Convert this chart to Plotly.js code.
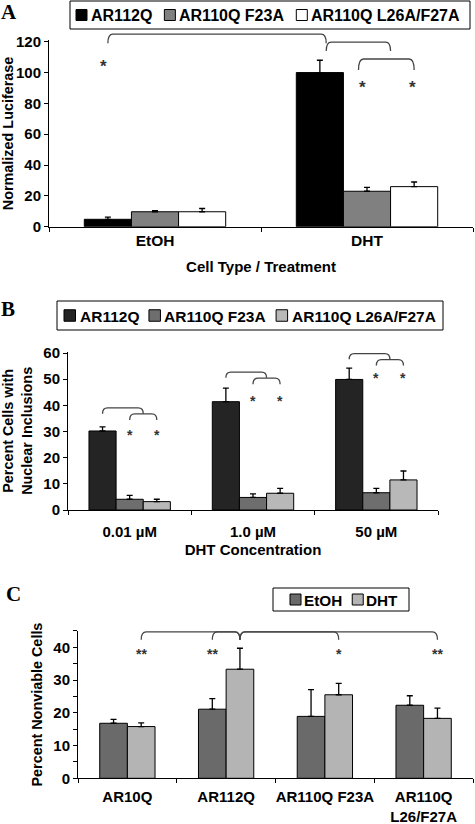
<!DOCTYPE html>
<html><head><meta charset="utf-8">
<script src="https://cdn.plot.ly/plotly-3.0.1.min.js"></script>
<style>html,body{margin:0;padding:0;background:#fff;}#chart{width:475px;height:824px;}</style>
</head><body><div id="chart"></div>
<script>
// ---------------- Data ----------------
// Panel A
const catsA = ['EtOH', 'DHT'];
const seriesNamesA = ['AR112Q', 'AR110Q F23A', 'AR110Q L26A/F27A'];
const lucAR112Q = [4.8, 100];
const lucAR112QErr = [1.4, 8];
const lucF23A = [9.7, 23];
const lucF23AErr = [0.7, 2.5];
const lucL26A = [9.7, 26];
const lucL26AErr = [2.1, 3];
// Panel B
const catsB = ['0.01 µM', '1.0 µM', '50 µM'];
const seriesNamesB = ['AR112Q', 'AR110Q F23A', 'AR110Q L26A/F27A'];
const inclAR112Q = [30.2, 41.4, 49.9];
const inclAR112QErr = [1.6, 5.2, 4.3];
const inclF23A = [4.1, 4.8, 6.6];
const inclF23AErr = [1.5, 1.4, 1.7];
const inclL26A = [3.2, 6.4, 11.5];
const inclL26AErr = [0.9, 1.9, 3.4];
// Panel C
const catsC = ['AR10Q', 'AR112Q', 'AR110Q F23A', 'AR110Q<br>L26/F27A'];
const seriesNamesC = ['EtOH', 'DHT'];
const nonviableEtOH = [16.8, 21.1, 18.9, 22.3];
const nonviableEtOHErr = [1.2, 3.2, 8.2, 2.9];
const nonviableDHT = [15.8, 33.3, 25.5, 18.3];
const nonviableDHTErr = [1.1, 6.4, 3.5, 3.1];
// Tick labels
const tickValsC = [0, 5, 10, 15, 20, 25, 30, 35, 40, 45];
const tickTextC = ['0', '', '10', '', '20', '', '30', '', '40', ''];

// ---------------- Layout helpers ----------------
const W = 475, H = 824;
const FONT = '"Liberation Sans", Arial, sans-serif';
const SERIF = '"Liberation Serif", "Times New Roman", serif';
const P = {
  A: {xPx: [49, 473], yPx: [40.2, 226.7], yRange: [0, 121], n: 2, groupW: 0.667, ns: 3, ax: ''},
  B: {xPx: [68, 438], yPx: [351.7, 510], yRange: [0, 60.5], n: 3, groupW: 0.66, ns: 3, ax: '2'},
  C: {xPx: [78, 473], yPx: [630.9, 778.3], yRange: [0, 45], n: 4, groupW: 0.56, ns: 2, ax: '3'}
};
function bc(p, cat, s) { const w = p.groupW / p.ns; return cat - p.groupW / 2 + w * (s + 0.5); }
function X(p, x) { return (p.xPx[0] + (x + 0.5) / p.n * (p.xPx[1] - p.xPx[0])) / W; }
function Y(p, y) { return 1 - (p.yPx[1] - (y - p.yRange[0]) / (p.yRange[1] - p.yRange[0]) * (p.yPx[1] - p.yPx[0])) / H; }

function bar(p, cats, s, y, err, name, color) {
  const w = p.groupW / p.ns;
  return {
    type: 'bar', x: cats, y: y, name: name,
    xaxis: 'x' + p.ax, yaxis: 'y' + p.ax,
    width: w, offset: -p.groupW / 2 + s * w,
    marker: {color: color, line: {color: '#000', width: 1}},
    error_y: {type: 'data', symmetric: false, array: err, arrayminus: err.map(() => 0),
              color: '#000', thickness: 1.3, width: 3},
    hoverinfo: 'skip'
  };
}

const data = [
  bar(P.A, catsA, 0, lucAR112Q, lucAR112QErr, seriesNamesA[0], '#000000'),
  bar(P.A, catsA, 1, lucF23A, lucF23AErr, seriesNamesA[1], '#808080'),
  bar(P.A, catsA, 2, lucL26A, lucL26AErr, seriesNamesA[2], '#ffffff'),
  bar(P.B, catsB, 0, inclAR112Q, inclAR112QErr, seriesNamesB[0], '#242424'),
  bar(P.B, catsB, 1, inclF23A, inclF23AErr, seriesNamesB[1], '#6e6e6e'),
  bar(P.B, catsB, 2, inclL26A, inclL26AErr, seriesNamesB[2], '#b8b8b8'),
  bar(P.C, catsC, 0, nonviableEtOH, nonviableEtOHErr, seriesNamesC[0], '#6a6a6a'),
  bar(P.C, catsC, 1, nonviableDHT, nonviableDHTErr, seriesNamesC[1], '#b4b4b4')
];

function xax(p, title, standoff, labelStandoff, tickSize) {
  const o = {
    domain: [p.xPx[0] / W, p.xPx[1] / W], range: [-0.5, p.n - 0.5], anchor: 'y' + p.ax,
    showline: true, linecolor: '#000', linewidth: 1, ticks: 'outside', tickson: 'boundaries',
    ticklen: 4, tickcolor: '#000', showgrid: false, zeroline: false, fixedrange: true,
    tickangle: 0, ticklabelstandoff: labelStandoff,
    tickfont: {family: FONT, size: tickSize, color: '#000', weight: 700}
  };
  if (title) o.title = {text: title, font: {family: FONT, size: 15, color: '#000', weight: 700}, standoff: standoff};
  return o;
}
function yax(p, title, standoff, extra) {
  const o = Object.assign({
    domain: [1 - p.yPx[1] / H, 1 - p.yPx[0] / H], range: p.yRange, anchor: 'x' + p.ax,
    showline: true, linecolor: '#000', linewidth: 1, ticks: 'outside', ticklen: 4, tickcolor: '#000',
    showgrid: false, zeroline: false, fixedrange: true,
    tickfont: {family: FONT, size: 15, color: '#000', weight: 700},
    title: {text: title, font: {family: FONT, size: 14.4, color: '#000', weight: 700}, standoff: standoff}
  }, extra || {});
  return o;
}

// --------------- Annotations / shapes ---------------
const shapes = [], annotations = [];
const ctx = document.createElement('canvas').getContext('2d');
function tw(t, size) { ctx.font = 'bold ' + size + 'px "Liberation Sans"'; return ctx.measureText(t).width; }
function rectPx(x0, y0, x1, y1, fill, lw) {
  shapes.push({type: 'rect', xref: 'paper', yref: 'paper', x0: x0 / W, x1: x1 / W, y0: 1 - y1 / H, y1: 1 - y0 / H,
    fillcolor: fill, line: {color: '#000', width: lw}});
}
function textPx(x, y, t, size, opts) {
  annotations.push(Object.assign({xref: 'paper', yref: 'paper', x: x / W, y: 1 - y / H, text: t, showarrow: false,
    xanchor: 'left', yanchor: 'middle', borderpad: 0,
    font: {family: FONT, size: size, color: '#000', weight: 700}}, opts || {}));
}
function legend(box, names, colors, startX, size, sq, gap1, gap2) {
  rectPx(box[0], box[1], box[2], box[3], 'rgba(0,0,0,0)', 1);
  const cy = (box[1] + box[3]) / 2;
  let x = startX;
  names.forEach((nm, i) => {
    rectPx(x, cy - sq / 2, x + sq, cy + sq / 2, colors[i], 1);
    textPx(x + sq + gap1, cy + 0.5, nm, size);
    x += sq + gap1 + tw(nm, size) + gap2;
  });
}
legend([70, 1, 470, 29], seriesNamesA, ['#000000', '#808080', '#ffffff'], 76, 16, 11, 3, 13);
legend([57, 301, 443, 330], seriesNamesB, ['#242424', '#6e6e6e', '#b8b8b8'], 64, 15.5, 11.5, 3, 11);
legend([273, 588, 409, 611], seriesNamesC, ['#6a6a6a', '#b4b4b4'], 290, 15.3, 11, 2, 11);

// panel letters
textPx(0, 12, 'A', 21, {font: {family: SERIF, size: 21, color: '#000', weight: 700}});
textPx(0, 309, 'B', 21, {font: {family: SERIF, size: 21, color: '#000', weight: 700}});
textPx(5, 594, 'C', 21, {font: {family: SERIF, size: 21, color: '#000', weight: 700}});

// significance brackets
function bracket(p, x0, x1, yt, yl) {
  const a = X(p, x0), b = X(p, x1), t = Y(p, yt), l = Y(p, yl);
  const r = Math.min(5 / W, (b - a) / 2);
  shapes.push({type: 'path', xref: 'paper', yref: 'paper',
    path: `M${a},${l} Q${a},${t} ${a + r},${t} L${b - r},${t} Q${b},${t} ${b},${l}`,
    line: {color: '#444', width: 1.3}});
}
function star(p, x, y, t, size) {
  annotations.push({xref: 'paper', yref: 'paper', x: X(p, x), y: Y(p, y), text: t, showarrow: false,
    xanchor: 'center', yanchor: 'middle', font: {family: FONT, size: size || 15, color: '#333', weight: 700}});
}
// A
bracket(P.A, bc(P.A, 0, 0), bc(P.A, 1, 0) + 0.03, 125, 119);
bracket(P.A, bc(P.A, 1, 0) + 0.03, (bc(P.A, 1, 1) + bc(P.A, 1, 2)) / 2, 119.8, 114);
bracket(P.A, bc(P.A, 1, 1) - 0.04, bc(P.A, 1, 2), 108.8, 101.6);
star(P.A, bc(P.A, 0, 0) - 0.02, 104, '*', 17);
star(P.A, bc(P.A, 1, 1) - 0.02, 90, '*', 17);
star(P.A, bc(P.A, 1, 2) - 0.01, 90, '*', 17);
// B
const bTop = [39, 52.7, 59.8], bStar = [28.5, 41.7, 50.5];
for (let i = 0; i < 3; i++) {
  bracket(P.B, bc(P.B, i, 0), (bc(P.B, i, 1) + bc(P.B, i, 2)) / 2, bTop[i], bTop[i] - 2.2);
  bracket(P.B, bc(P.B, i, 1), bc(P.B, i, 2), bTop[i] - 2.3, bTop[i] - 4.6);
  star(P.B, bc(P.B, i, 1), bStar[i], '*', 14);
  star(P.B, bc(P.B, i, 2), bStar[i], '*', 14);
}
// C
const cTop = 44.7, cLeg = 42.3;
bracket(P.C, bc(P.C, 0, 1), bc(P.C, 1, 1), cTop, cLeg);
bracket(P.C, bc(P.C, 1, 0), bc(P.C, 1, 1), cTop, cLeg);
bracket(P.C, bc(P.C, 1, 1), bc(P.C, 2, 1), cTop, cLeg);
bracket(P.C, bc(P.C, 1, 1), bc(P.C, 3, 1), cTop, cLeg);
star(P.C, bc(P.C, 0, 1), 37.8, '**', 14);
star(P.C, bc(P.C, 1, 0), 37.8, '**', 14);
star(P.C, bc(P.C, 2, 1), 37.8, '*', 14);
star(P.C, bc(P.C, 3, 1), 37.8, '**', 14);

const layout = {
  width: W, height: H, margin: {l: 0, r: 0, t: 0, b: 0}, showlegend: false,
  paper_bgcolor: '#fff', plot_bgcolor: '#fff', barmode: 'overlay',
  font: {family: FONT, color: '#000'},
  xaxis: xax(P.A, 'Cell Type / Treatment', 13, 0, 15.5),
  yaxis: yax(P.A, 'Normalized Luciferase', 3, {dtick: 20}),
  xaxis2: xax(P.B, 'DHT Concentration', 5, 8, 15),
  yaxis2: yax(P.B, 'Percent Cells with<br>Nuclear Inclusions', 13, {dtick: 10}),
  xaxis3: xax(P.C, '', 0, 5, 15),
  yaxis3: yax(P.C, 'Percent Nonviable Cells', 7, {tickmode: 'array', tickvals: tickValsC, ticktext: tickTextC}),
  shapes: shapes, annotations: annotations
};
Plotly.newPlot('chart', data, layout, {staticPlot: true, displayModeBar: false});
</script></body></html>
